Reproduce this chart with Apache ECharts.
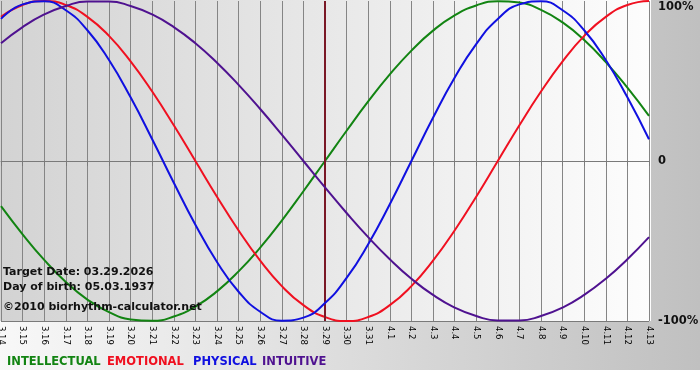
<!DOCTYPE html>
<html>
<head>
<meta charset="utf-8">
<script src="https://cdn.jsdelivr.net/npm/echarts@6/dist/echarts.min.js"></script>
<style>html,body{margin:0;padding:0;background:#fff}#c{width:700px;height:380px}</style>
</head>
<body>
<div id="c"></div>
<script>
const dates = ['3.14','3.15','3.16','3.17','3.18','3.19','3.20','3.21','3.22','3.23','3.24','3.25','3.26','3.27','3.28','3.29','3.30','3.31','4.1','4.2','4.3','4.4','4.5','4.6','4.7','4.8','4.9','4.10','4.11','4.12','4.13'];
const intellectual = [-0.282,-0.458,-0.618,-0.756,-0.866,-0.945,-0.990,-0.999,-0.972,-0.910,-0.815,-0.690,-0.541,-0.372,-0.189,0.000,0.189,0.372,0.541,0.690,0.815,0.910,0.972,0.999,0.990,0.945,0.866,0.756,0.618,0.458,0.282];
const emotional = [0.901,0.975,1.000,0.975,0.901,0.782,0.623,0.434,0.223,0.000,-0.223,-0.434,-0.623,-0.782,-0.901,-0.975,-1.000,-0.975,-0.901,-0.782,-0.623,-0.434,-0.223,0.000,0.223,0.434,0.623,0.782,0.901,0.975,1.000];
const physical = [0.888,0.979,0.998,0.942,0.817,0.631,0.398,0.136,-0.136,-0.398,-0.631,-0.817,-0.942,-0.998,-0.979,-0.888,-0.731,-0.520,-0.270,0.000,0.270,0.520,0.731,0.888,0.979,0.998,0.942,0.817,0.631,0.398,0.136];
const intuitive = [0.736,0.837,0.916,0.969,0.997,0.997,0.969,0.916,0.837,0.736,0.614,0.476,0.325,0.165,0.000,-0.165,-0.325,-0.476,-0.614,-0.736,-0.837,-0.916,-0.969,-0.997,-0.997,-0.969,-0.916,-0.837,-0.736,-0.614,-0.476];
const targetDate = '3.29';
const yTicks = {'1':'100%','0':'0','-1':'-100%'};
const names = ['INTELLECTUAL','EMOTIONAL','PHYSICAL','INTUITIVE'];
const colors = ['#128412','#f01020','#1010e0','#4f1290'];
const infoLines = ['Target Date: 03.29.2026','Day of birth: 05.03.1937','\u00a92010 biorhythm-calculator.net'];

const FONT = 'DejaVu Sans';
const chart = echarts.init(document.getElementById('c'), null, {renderer:'canvas'});
const seriesData = [intellectual, emotional, physical, intuitive];
const series = seriesData.map((d, i) => ({
  name: names[i], type: 'line', data: d, smooth: 0.5, symbol: 'none',
  lineStyle: {color: colors[i], width: 2}, itemStyle: {color: colors[i]},
  z: 3 + i
}));
series[0].markLine = {
  silent: true, symbol: ['none','none'], label: {show: false},
  lineStyle: {color: '#7a1826', width: 2, type: 'solid'},
  data: [{xAxis: targetDate}], animation: false
};
const legendX = [7, 107, 193, 262];
const graphic = [
  {type:'rect', z:-20, silent:true, shape:{x:0,y:0,width:700,height:370},
   style:{fill:new echarts.graphic.LinearGradient(0,0,1,0,[{offset:0,color:'#f8f8f8'},{offset:1,color:'#c0c0c0'}])}},
  {type:'rect', z:-19, silent:true, shape:{x:0,y:0,width:651,height:321},
   style:{fill:new echarts.graphic.LinearGradient(0,0,1,0,[{offset:0,color:'#d3d3d3'},{offset:1,color:'#fdfdfd'}])}}
];
infoLines.forEach((t, i) => graphic.push({type:'text', z:100, silent:true,
  style:{x:3, y:[272,287,307][i], text:t, fill:'#111', font:'bold 11px "' + FONT + '"', verticalAlign:'middle'}}));
names.forEach((t, i) => graphic.push({type:'text', z:100, silent:true,
  style:{x:legendX[i], y:362, text:t, fill:colors[i], font:'bold 11.5px "' + FONT + '"', verticalAlign:'middle'}}));

chart.setOption({
  animation: false,
  grid: {left: 1, right: 51, top: 1, bottom: 59, show: false, containLabel: false, outerBoundsMode: 'none'},
  xAxis: {
    type: 'category', data: dates, boundaryGap: false,
    axisLine: {show: true, lineStyle: {color: '#7a7a7a', width: 1}},
    axisTick: {show: true, interval: 0, length: 5, lineStyle: {color: '#7a7a7a'}},
    splitLine: {show: true, interval: 0, lineStyle: {color: '#858585', width: 1}},
    axisLabel: {interval: 0, rotate: -90, fontSize: 8.5, fontFamily: FONT, color: '#000', margin: 5, hideOverlap: false}
  },
  yAxis: {
    type: 'value', position: 'right', min: -1, max: 1, interval: 1,
    axisLine: {show: false}, axisTick: {show: false},
    splitLine: {show: true, lineStyle: {color: ['#7a7a7a','#858585','rgba(0,0,0,0)'], width: 1}},
    axisLabel: {margin: 9, fontSize: 11.5, fontWeight: 'bold', fontFamily: FONT, color: '#111', lineHeight: 12,
      formatter: v => v === 1 ? '\n' + yTicks['1'] : yTicks[String(v)]}
  },
  graphic: graphic,
  series: series
});
</script>
</body>
</html>
